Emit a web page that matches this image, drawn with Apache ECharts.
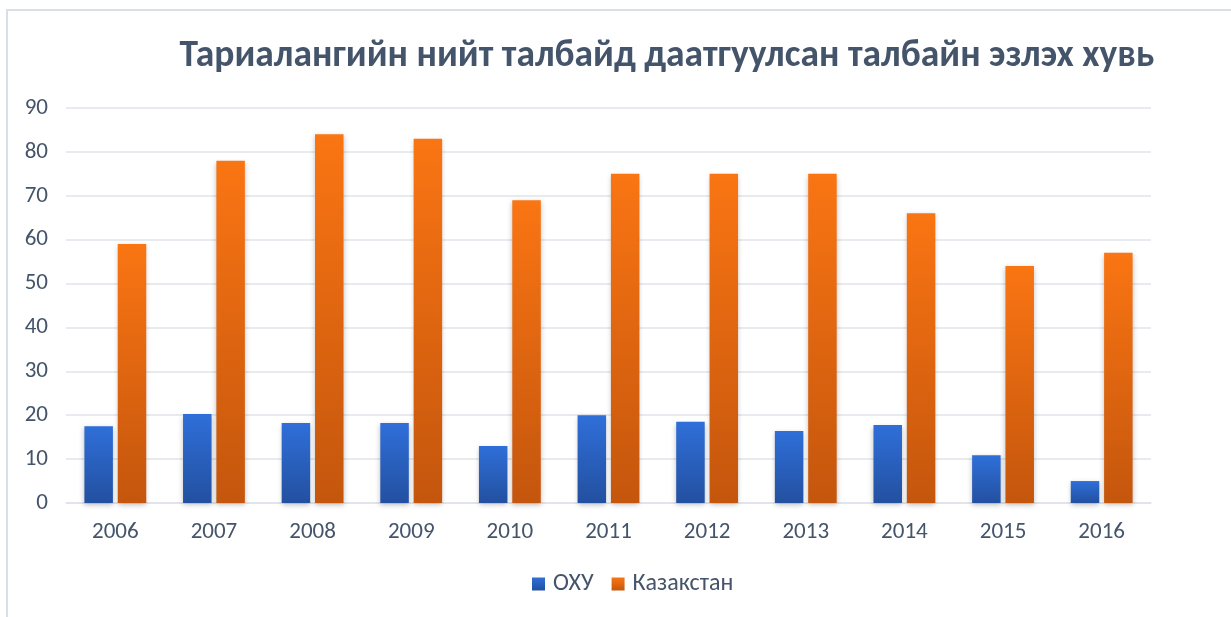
<!DOCTYPE html>
<html><head><meta charset="utf-8">
<script src="https://cdn.jsdelivr.net/npm/echarts@6/dist/echarts.min.js"></script>
<style>html,body{margin:0;padding:0;background:#fff}#c{width:1231px;height:617px}</style>
</head><body><div id="c"></div>
<script>
const categories = ['2006','2007','2008','2009','2010','2011','2012','2013','2014','2015','2016'];
const ohu = [17.5, 20.3, 18.2, 18.2, 13.0, 20.0, 18.5, 16.4, 17.8, 10.9, 5.0];
const kazakhstan = [59, 78, 84, 83, 69, 75, 75, 75, 66, 54, 57];
const seriesNames = ['ОХУ', 'Казакстан'];
const titleText = 'Тариалангийн нийт талбайд даатгуулсан талбайн эзлэх хувь';

const font = "Carlito, Calibri, 'Liberation Sans Narrow', 'Open Sans', sans-serif";
const textColor = '#44546a';
const chart = echarts.init(document.getElementById('c'), null, {renderer:'canvas'});
const grad = (a,b)=>new echarts.graphic.LinearGradient(0,0,0,1,[{offset:0,color:a},{offset:1,color:b}]);
chart.setOption({
  animation:false,
  backgroundColor:'#fff',
  graphic:[{type:'polyline',shape:{points:[[7,617],[7,10],[1231,10]]},style:{stroke:'#dadee5',lineWidth:2,fill:null}}],
  title:{text:titleText,left:662,textAlign:'center',top:33,textStyle:{fontFamily:font,fontWeight:'bold',fontSize:37.5,color:textColor}},
  legend:{data:seriesNames,bottom:16,left:527,itemWidth:13,itemHeight:13,itemGap:18,icon:'rect',
    textStyle:{fontFamily:font,fontSize:24,color:textColor,padding:[0,0,0,3]}},
  grid:{left:66,right:80,top:108,bottom:114,containLabel:false},
  xAxis:{type:'category',data:categories,axisLine:{show:true,lineStyle:{color:'#dfe3ea',width:1.5}},axisTick:{show:false},
    axisLabel:{fontFamily:font,fontSize:23,color:textColor,margin:18}},
  yAxis:{type:'value',min:0,max:90,interval:10,axisLine:{show:false},axisTick:{show:false},
    splitLine:{lineStyle:{color:'#dfe3ea',width:1.5}},
    axisLabel:{fontFamily:font,fontSize:23,color:textColor,margin:18}},
  series:[
    {name:seriesNames[0],type:'bar',data:ohu,barWidth:28.5,barGap:'17%',
     itemStyle:{color:grad('#2f6fd9','#2350a0'),shadowBlur:5,shadowColor:'rgba(0,0,0,0.25)',shadowOffsetY:2}},
    {name:seriesNames[1],type:'bar',data:kazakhstan,barWidth:28.5,
     itemStyle:{color:grad('#fa7513','#c4560d'),shadowBlur:5,shadowColor:'rgba(0,0,0,0.25)',shadowOffsetY:2}}
  ]
});
</script></body></html>
